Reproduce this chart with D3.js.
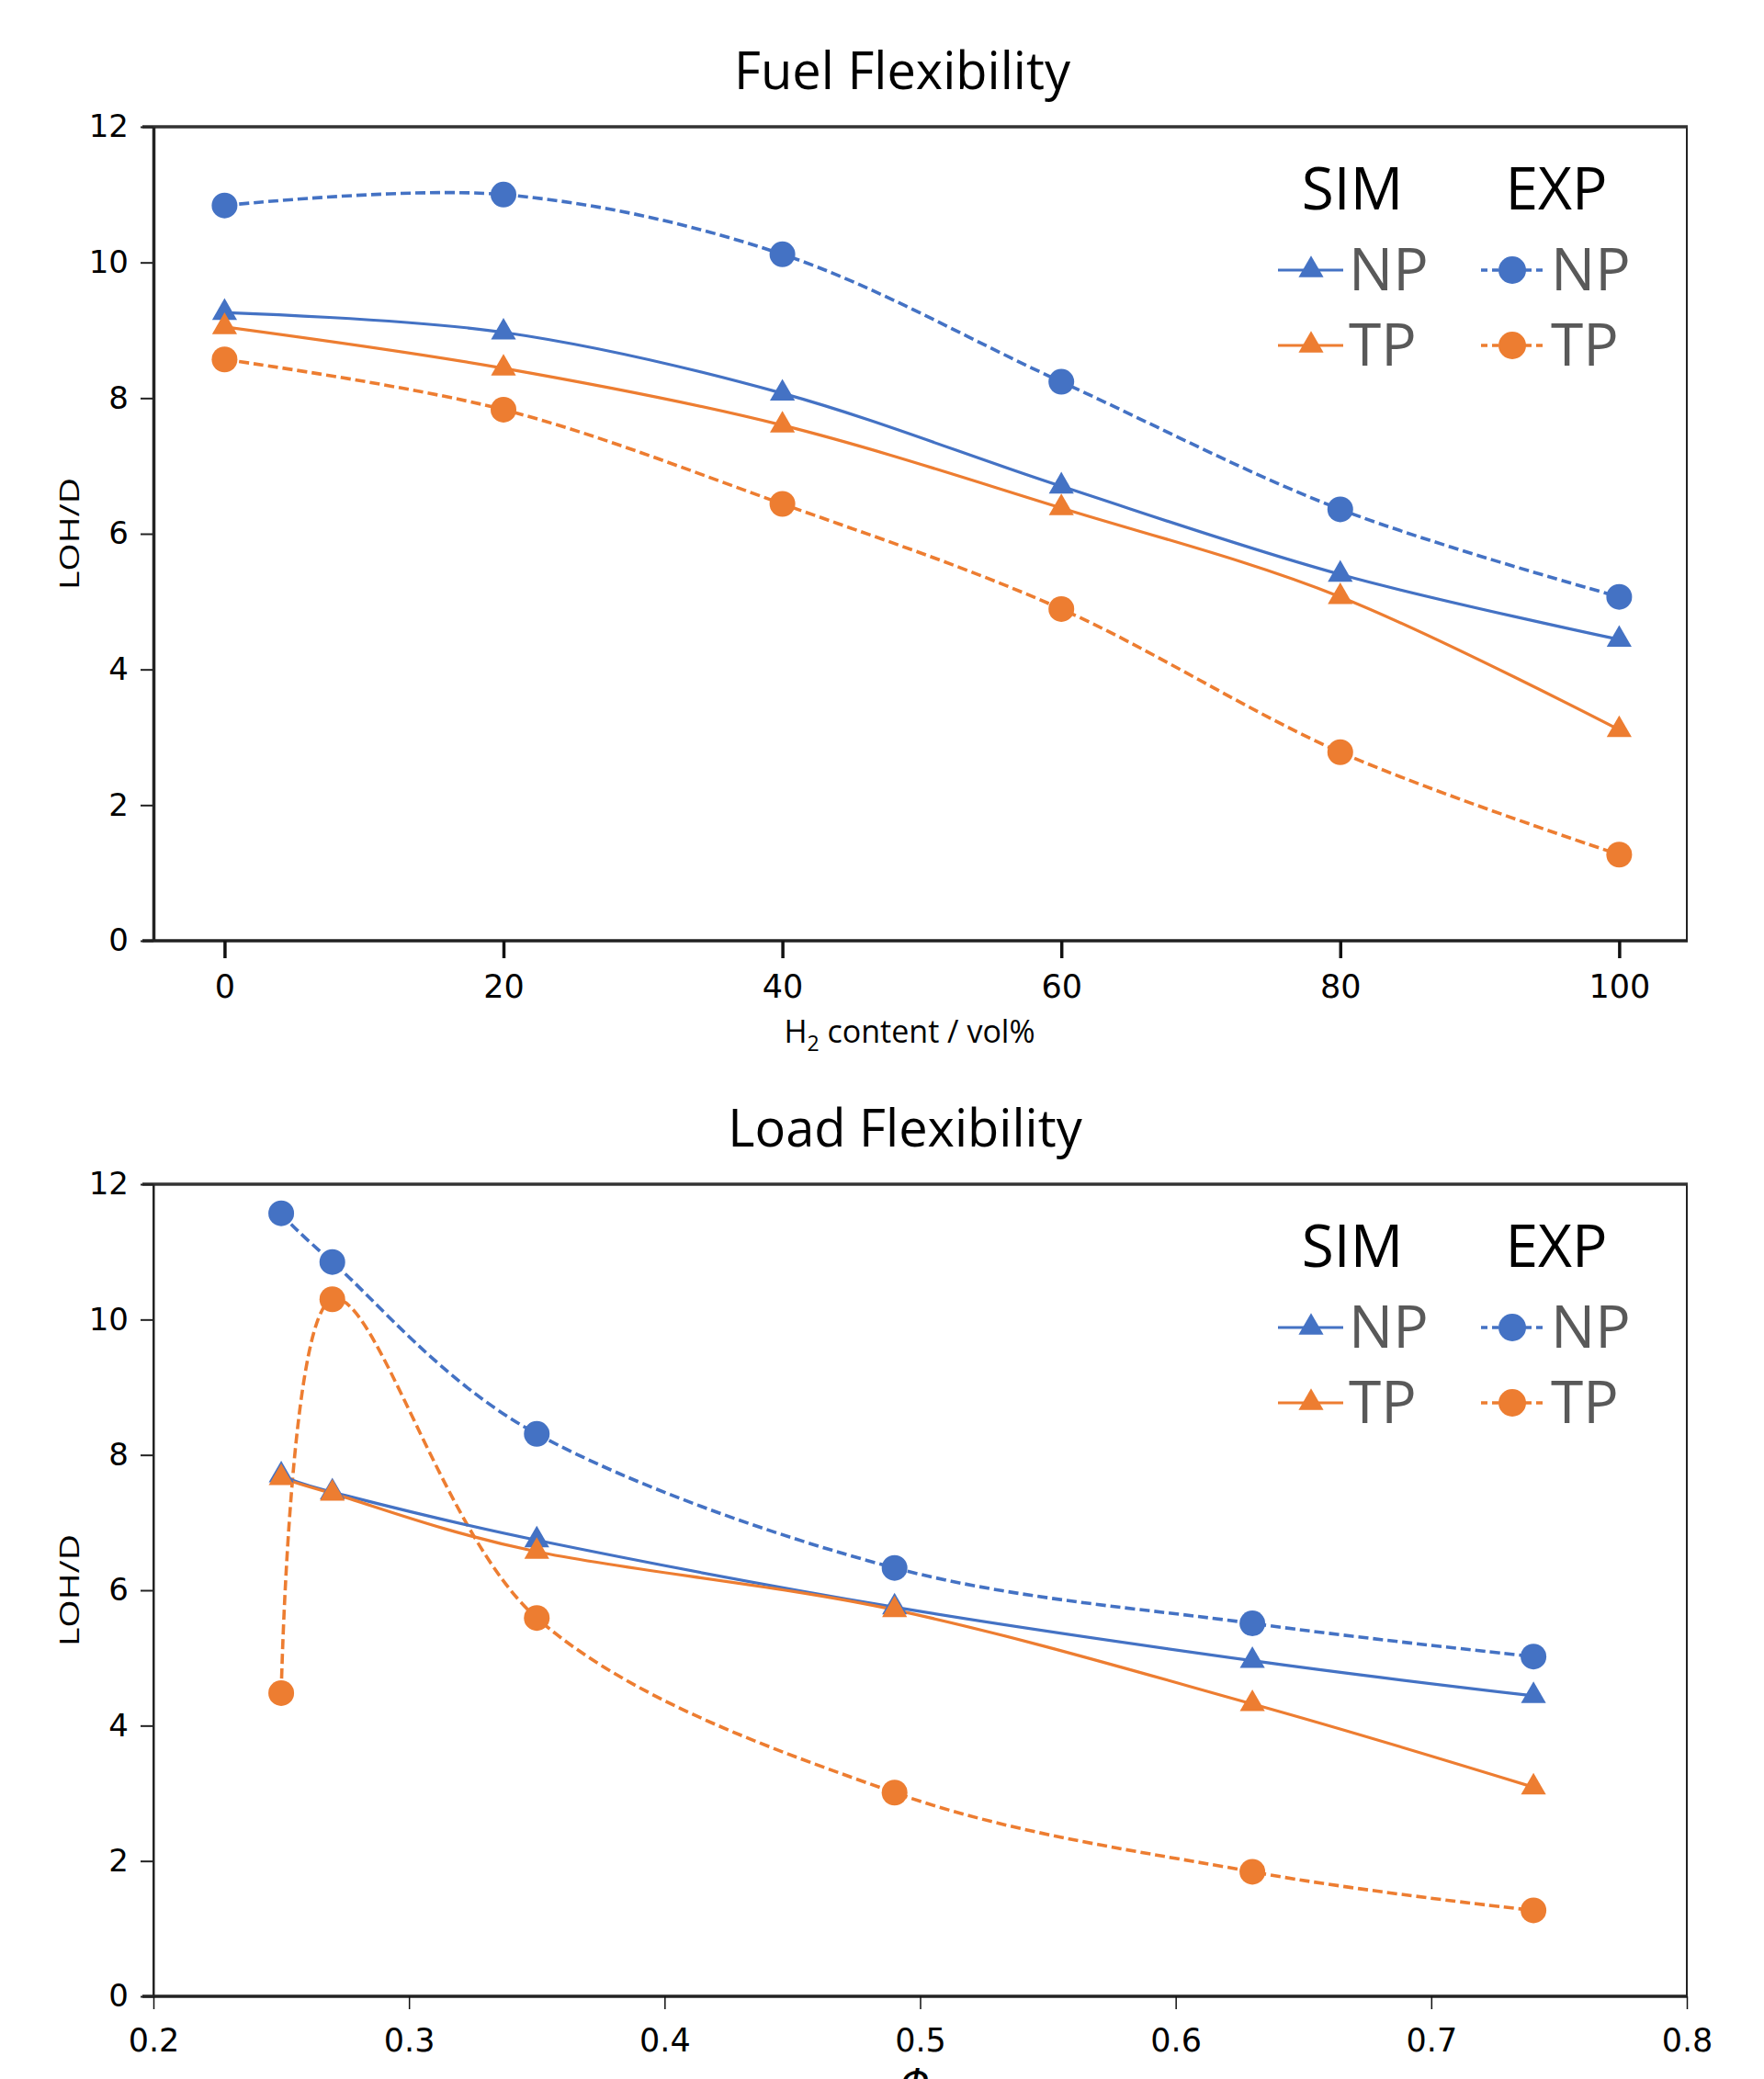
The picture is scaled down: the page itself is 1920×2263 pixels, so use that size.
<!DOCTYPE html>
<html lang="en">
<head>
<meta charset="UTF-8">
<title>Fuel and Load Flexibility</title>
<script src="https://d3js.org/d3.v7.min.js"></script>
<style>
body { margin: 0; background: #fff; }
svg text { font-family: "Open Sans", sans-serif; }
.tick text { font-family: "DejaVu Sans", sans-serif; }
</style>
</head>
<body>
<div id="chart"></div>
<script>
// ---- data ----
var fuelH2    = [0, 20, 40, 60, 80, 100];
var fuelSimNP = [9.26, 8.97, 8.07, 6.70, 5.40, 4.44];
var fuelSimTP = [9.05, 8.44, 7.60, 6.38, 5.07, 3.11];
var fuelExpNP = [10.84, 11.00, 10.12, 8.24, 6.36, 5.07];
var fuelExpTP = [8.57, 7.83, 6.44, 4.89, 2.78, 1.27];
var fuelTicks = [0, 20, 40, 60, 80, 100];

var loadPhi   = [0.25, 0.27, 0.35, 0.49, 0.63, 0.74];
var loadSimNP = [7.70, 7.45, 6.74, 5.75, 4.96, 4.44];
var loadSimTP = [7.66, 7.43, 6.57, 5.71, 4.32, 3.09];
var loadExpNP = [11.57, 10.85, 8.31, 6.33, 5.51, 5.02];
var loadExpTP = [4.48, 10.30, 5.59, 3.01, 1.84, 1.27];
var loadTicks = [0.2, 0.3, 0.4, 0.5, 0.6, 0.7, 0.8];

var yTicks = [0, 2, 4, 6, 8, 10, 12];

var blue = "#4472C4", orange = "#ED7D31";

var W = 1920, H = 2263;
var svg = d3.select("#chart").append("svg")
  .attr("width", W).attr("height", H);
svg.append("rect").attr("width", W).attr("height", H).attr("fill", "#fff");

var left = 167, right = 1836;

function drawPanel(p) {
  var x = d3.scaleLinear().domain(p.xDomain).range([left, right]);
  var y = d3.scaleLinear().domain([0, 12]).range([p.bottom, p.top]);
  var g = svg.append("g");

  // title
  g.append("text")
    .attr("x", p.titleX).attr("y", p.top - 41)
    .attr("text-anchor", "middle")
    .attr("font-size", 56)
    .attr("fill", "#000")
    .text(p.title);

  // frame
  g.append("rect")
    .attr("x", left).attr("y", p.top)
    .attr("width", right - left).attr("height", p.bottom - p.top)
    .attr("fill", "none").attr("stroke", "#222").attr("stroke-width", 2);
  g.append("line").attr("x1", left - 12).attr("x2", right + 1)
    .attr("y1", p.top).attr("y2", p.top)
    .attr("stroke", "#333").attr("stroke-width", 3.5);

  // axes
  var xAxis = g.append("g")
    .attr("transform", "translate(0," + p.bottom + ")")
    .call(d3.axisBottom(x).tickValues(p.xTicks).tickSize(p.xTickLen).tickSizeOuter(0)
      .tickFormat(p.xFormat));
  xAxis.select(".domain").attr("stroke", "#222").attr("stroke-width", 3.5)
    .attr("d", "M" + (left - 12) + ",0H" + (right + 1));
  xAxis.selectAll(".tick line").attr("stroke", "#111").attr("stroke-width", p.xTickW);
  xAxis.selectAll(".tick text").attr("font-size", 35).attr("fill", "#000")
    .attr("y", p.xLabelDy).attr("dy", 0);

  var yAxis = g.append("g")
    .attr("transform", "translate(" + left + ",0)")
    .call(d3.axisLeft(y).tickValues(yTicks).tickSize(14).tickSizeOuter(0));
  yAxis.select(".domain").attr("stroke", "#222").attr("stroke-width", p.yAxisW);
  yAxis.selectAll(".tick line").attr("stroke", "#222").attr("stroke-width", 2);
  yAxis.selectAll(".tick text").attr("font-size", 34).attr("fill", "#000")
    .attr("x", -27);

  // y label
  g.append("text")
    .attr("transform", "translate(86," + ((p.top + p.bottom) / 2) + ") rotate(-90)")
    .attr("text-anchor", "middle")
    .attr("font-size", 30)
    .attr("textLength", 122).attr("lengthAdjust", "spacingAndGlyphs")
    .text("LOH/D");

  // series
  var series = [
    {vals: p.expNP, color: blue, dash: "11,5", sym: "circle"},
    {vals: p.expTP, color: orange, dash: "11,5", sym: "circle"},
    {vals: p.simNP, color: blue, dash: null, sym: "tri"},
    {vals: p.simTP, color: orange, dash: null, sym: "tri"}
  ];
  var line = d3.line()
    .x(function(d) { return x(d[0]); })
    .y(function(d) { return y(d[1]); })
    .curve(d3.curveCardinal.tension(0));

  series.forEach(function(s) {
    var pts = p.xs.map(function(v, i) { return [v, s.vals[i]]; });
    g.append("path")
      .attr("d", line(pts))
      .attr("fill", "none")
      .attr("stroke", s.color)
      .attr("stroke-width", s.dash ? 3.6 : 3.2)
      .attr("stroke-dasharray", s.dash);
  });
  series.forEach(function(s) {
    var pts = p.xs.map(function(v, i) { return [v, s.vals[i]]; });
    if (s.sym === "circle") {
      g.selectAll(null).data(pts).enter().append("circle")
        .attr("cx", function(d) { return x(d[0]); })
        .attr("cy", function(d) { return y(d[1]); })
        .attr("r", 14)
        .attr("fill", s.color);
    } else {
      g.selectAll(null).data(pts).enter().append("path")
        .attr("d", d3.symbol().type(d3.symbolTriangle).size(320))
        .attr("transform", function(d) { return "translate(" + x(d[0]) + "," + y(d[1]) + ")"; })
        .attr("fill", s.color);
    }
  });

  // legend
  var lg = g.append("g").attr("transform", "translate(0," + p.top + ")");
  lg.append("text").attr("x", 1472).attr("y", 90).attr("text-anchor", "middle")
    .attr("font-size", 64).attr("fill", "#000").text("SIM");
  lg.append("text").attr("x", 1694).attr("y", 90).attr("text-anchor", "middle")
    .attr("font-size", 64).attr("fill", "#000").text("EXP");
  var rows = [{label: "NP", color: blue, ly: 156}, {label: "TP", color: orange, ly: 238}];
  rows.forEach(function(r) {
    lg.append("line").attr("x1", 1391).attr("x2", 1462)
      .attr("y1", r.ly).attr("y2", r.ly)
      .attr("stroke", r.color).attr("stroke-width", 3.2);
    lg.append("path")
      .attr("d", d3.symbol().type(d3.symbolTriangle).size(320))
      .attr("transform", "translate(1427," + r.ly + ")")
      .attr("fill", r.color);
    lg.append("text").attr("x", 1468).attr("y", r.ly + 22)
      .attr("font-size", 64).attr("fill", "#595959").text(r.label);

    lg.append("line").attr("x1", 1612).attr("x2", 1682)
      .attr("y1", r.ly).attr("y2", r.ly)
      .attr("stroke", r.color).attr("stroke-width", 3.4)
      .attr("stroke-dasharray", "7,5");
    lg.append("circle").attr("cx", 1646).attr("cy", r.ly).attr("r", 15)
      .attr("fill", r.color);
    lg.append("text").attr("x", 1688).attr("y", r.ly + 22)
      .attr("font-size", 64).attr("fill", "#595959").text(r.label);
  });
  return g;
}

var top1 = drawPanel({
  title: "Fuel Flexibility", titleX: 982,
  top: 138, bottom: 1024,
  xDomain: [-5.1, 104.85], xTicks: fuelTicks, xFormat: d3.format("d"),
  xTickLen: 19, xTickW: 3.5, xLabelDy: 62, yAxisW: 3.5,
  xs: fuelH2, simNP: fuelSimNP, simTP: fuelSimTP, expNP: fuelExpNP, expTP: fuelExpTP
});

// x label, top panel
var xl = svg.append("text")
  .attr("x", 990).attr("y", 1135)
  .attr("text-anchor", "middle")
  .attr("font-size", 34);
xl.append("tspan").text("H");
xl.append("tspan").attr("font-size", 23).attr("dy", 9).text("2");
xl.append("tspan").attr("dy", -9).text(" content / vol%");

var bottom1 = drawPanel({
  title: "Load Flexibility", titleX: 985,
  top: 1289, bottom: 2173,
  xDomain: [0.2, 0.8], xTicks: loadTicks, xFormat: d3.format(".1f"),
  xTickLen: 14, xTickW: 1.5, xLabelDy: 60, yAxisW: 2,
  xs: loadPhi, simNP: loadSimNP, simTP: loadSimTP, expNP: loadExpNP, expTP: loadExpTP
});

// x label, bottom panel (cropped at the page edge, as in the source figure)
svg.append("text")
  .attr("x", 996).attr("y", 2281)
  .attr("text-anchor", "middle")
  .attr("font-size", 40)
  .attr("font-style", "italic")
  .style("font-family", "'DejaVu Sans', sans-serif")
  .text("Φ");
</script>
</body>
</html>
